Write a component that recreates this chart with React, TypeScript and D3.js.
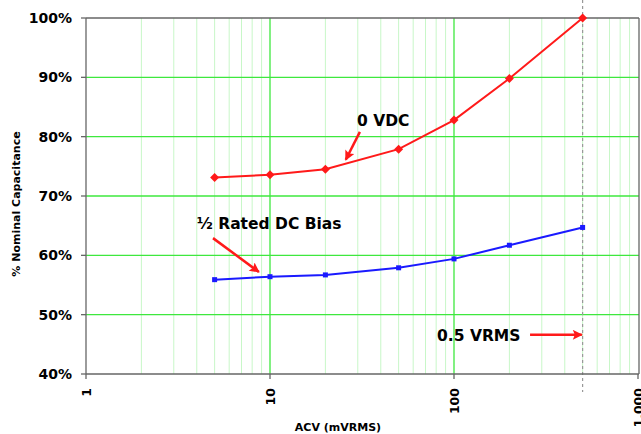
import React from 'react';
import * as d3 from 'd3';

// values
const acv = [5, 10, 20, 50, 100, 200, 500];
const zeroVdc = [73.1, 73.6, 74.5, 77.9, 82.8, 89.8, 100];
const halfBias = [55.9, 56.4, 56.7, 57.9, 59.4, 61.7, 64.7];
const yTicks = [40, 50, 60, 70, 80, 90, 100];
const xTicks = [1, 10, 100, 1000];
const xTickLabels = ['1', '10', '100', '1,000'];
const markerAcv = 500;

const W = 641, H = 434;
const left = 86, right = 638, top = 18, bottom = 374;
const font = 'DejaVu Sans, Verdana, sans-serif';

export default function App() {
  const x = d3.scaleLog().domain([1, 1000]).range([left, right]);
  const y = d3.scaleLinear().domain([40, 100]).range([bottom, top]);

  const minor: number[] = [];
  [1, 10, 100].forEach(d => { for (let k = 2; k <= 9; k++) minor.push(d * k); });

  const line = d3.line<[number, number]>().x(d => x(d[0])).y(d => y(d[1]));
  const red = acv.map((a, i) => [a, zeroVdc[i]] as [number, number]);
  const blue = acv.map((a, i) => [a, halfBias[i]] as [number, number]);

  const bold = { fontFamily: font, fontWeight: 700, fill: '#000' };

  return (
    <svg width={W} height={H} style={{ position: 'absolute', left: 0, top: 0, background: '#fff' }}>
      <defs>
        <marker id="arr" viewBox="0 0 10 10" refX="9" refY="5" markerWidth="5" markerHeight="4" orient="auto" markerUnits="strokeWidth">
          <path d="M0,0 L10,5 L0,10 L2,5 Z" fill="#ff1a1a" />
        </marker>
      </defs>

      {/* minor vertical grid */}
      {minor.map(m => (
        <line key={'mn' + m} x1={x(m)} x2={x(m)} y1={top} y2={bottom} stroke="#c8f7c8" strokeWidth={1} />
      ))}
      {/* major grid */}
      {[10, 100].map(m => (
        <line key={'mj' + m} x1={x(m)} x2={x(m)} y1={top} y2={bottom} stroke="#3ee83e" strokeWidth={1.3} />
      ))}
      {yTicks.slice(1, -1).map(t => (
        <line key={'h' + t} x1={left} x2={right + 1} y1={y(t)} y2={y(t)} stroke="#3ee83e" strokeWidth={1.3} />
      ))}

      {/* dashed reference at 0.5 VRMS */}
      <line x1={x(markerAcv)} x2={x(markerAcv)} y1={0} y2={392} stroke="#999" strokeWidth={1.2} strokeDasharray="3,3" />

      {/* frame */}
      <line x1={left} x2={right + 1} y1={top} y2={top} stroke="#666" strokeWidth={1.3} />
      <line x1={right + 1} x2={right + 1} y1={top} y2={bottom} stroke="#666" strokeWidth={1.3} />
      <line x1={left} x2={left} y1={top} y2={bottom} stroke="#666" strokeWidth={1.3} />
      <line x1={left} x2={right + 1} y1={bottom} y2={bottom} stroke="#666" strokeWidth={1.3} />

      {/* y axis */}
      {yTicks.map(t => (
        <g key={'y' + t}>
          <line x1={left - 5} x2={left} y1={y(t)} y2={y(t)} stroke="#666" strokeWidth={1.3} />
          <text x={72} y={y(t) + 5} textAnchor="end" fontSize={14} {...bold}>{t}%</text>
        </g>
      ))}

      {/* x axis */}
      {xTicks.map((t, i) => (
        <g key={'x' + t}>
          <line x1={x(t)} x2={x(t)} y1={bottom} y2={bottom + 5} stroke="#666" strokeWidth={1.3} />
          <text transform={`translate(${x(t)},388) rotate(-90)`} dy="0.36em" textAnchor="end" fontSize={12.5} {...bold}>
            {xTickLabels[i]}
          </text>
        </g>
      ))}

      <text x={338} y={431} textAnchor="middle" fontSize={11} {...bold}>ACV (mVRMS)</text>
      <text transform="translate(16,204) rotate(-90)" dy="0.36em" textAnchor="middle" fontSize={11} {...bold}>
        % Nominal Capacitance
      </text>

      {/* series */}
      <path d={line(red) || ''} fill="none" stroke="#ff1a1a" strokeWidth={2} />
      {red.map(d => (
        <path key={'r' + d[0]} d="M0,-4.5 L4.5,0 L0,4.5 L-4.5,0 Z" transform={`translate(${x(d[0])},${y(d[1])})`} fill="#ff1a1a" />
      ))}
      <path d={line(blue) || ''} fill="none" stroke="#1a1aff" strokeWidth={2} />
      {blue.map(d => (
        <rect key={'b' + d[0]} x={x(d[0]) - 2.5} y={y(d[1]) - 2.5} width={5} height={5} fill="#1a1aff" />
      ))}

      {/* annotations */}
      <text x={x(29.7)} y={y(81.8)} fontSize={15.5} {...bold}>0 VDC</text>
      <line x1={x(30.8)} y1={y(80.8)} x2={x(25.8)} y2={y(76.1)} stroke="#ff1a1a" strokeWidth={2.5} markerEnd="url(#arr)" />

      <text x={x(4.0)} y={y(64.4)} fontSize={15.5} {...bold}>½ Rated DC Bias</text>
      <line x1={x(4.9)} y1={y(62.9)} x2={x(8.7)} y2={y(57.2)} stroke="#ff1a1a" strokeWidth={2.5} markerEnd="url(#arr)" />

      <text x={x(80.9)} y={y(45.6)} fontSize={15.5} {...bold}>0.5 VRMS</text>
      <line x1={x(259)} y1={y(46.6)} x2={x(495)} y2={y(46.6)} stroke="#ff1a1a" strokeWidth={2.5} markerEnd="url(#arr)" />
    </svg>
  );
}
